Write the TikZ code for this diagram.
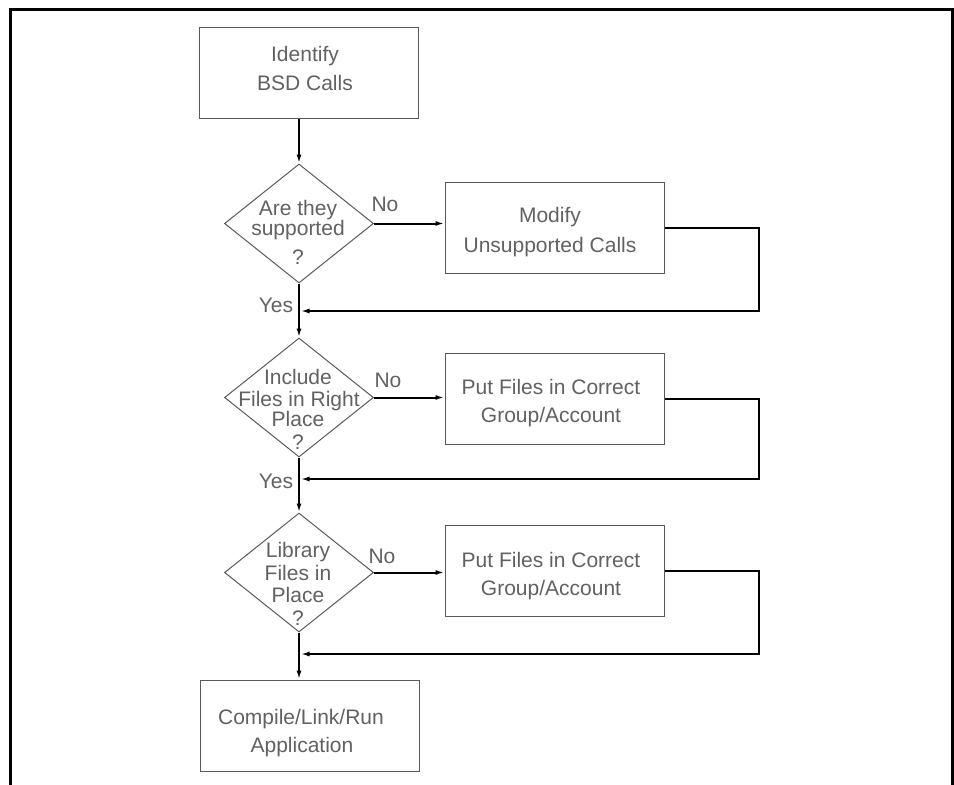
\documentclass[tikz,border=0pt]{standalone}
\usepackage{fontspec}
\setmainfont{Liberation Sans}
\usetikzlibrary{shapes.geometric,arrows.meta}
\begin{document}
\begin{tikzpicture}[x=1pt,y=-1pt,
  box/.style={draw=black!65, line width=1pt, minimum width=219pt, minimum height=91pt, inner sep=0pt},
  dia/.style={diamond, draw=black!65, line width=1pt, minimum width=149pt, minimum height=119pt, inner sep=0pt},
  txt/.style={font=\fontsize{21}{21}\selectfont, text=black!62, inner sep=0pt, text height=15pt, text depth=0pt},
  conn/.style={line width=2pt, black, -{Latex[length=9pt,width=5pt]}},
  loopline/.style={line width=2pt, black, -{Latex[length=9pt,width=5pt]}},
  frame/.style={line width=3pt, black}]
\useasboundingbox (0,0) rectangle (954,785);
% frame
\coordinate (f1) at (10.7,785);
\coordinate (f2) at (10.7,9.7);
\coordinate (f3) at (952.5,9.7);
\coordinate (f4) at (952.5,785);
\draw[frame] (f1) -- (f2) -- (f3) -- (f4);
% shapes
\node[box] (b1) at (309,72.5) {};
\node[dia] (d1) at (299,223.5) {};
\node[box] (b2) at (554.5,227.5) {};
\node[dia] (d2) at (299,397.5) {};
\node[box] (b3) at (554.5,399) {};
\node[dia] (d3) at (299,572.5) {};
\node[box] (b4) at (554.5,571) {};
\node[box] (b5) at (309.5,725.5) {};
% texts
\node[txt] (t1a) at (305,54) {Identify};
\node[txt] (t1b) at (305,83) {BSD Calls};
\node[txt] (t2a) at (298,208) {Are they};
\node[txt] (t2b) at (298,228) {supported};
\node[txt] (t2c) at (298,257) {?};
\node[txt] (t3a) at (550,215) {Modify};
\node[txt] (t3b) at (550,245) {Unsupported Calls};
\node[txt] (t4a) at (298,377) {Include};
\node[txt] (t4b) at (299,399) {Files in Right};
\node[txt] (t4c) at (298,419) {Place};
\node[txt] (t4d) at (298,442) {?};
\node[txt] (t5a) at (551,387) {Put Files in Correct};
\node[txt] (t5b) at (551,415) {Group/Account};
\node[txt] (t6a) at (298,550) {Library};
\node[txt] (t6b) at (298,573) {Files in};
\node[txt] (t6c) at (298,595) {Place};
\node[txt] (t6d) at (298,618) {?};
\node[txt] (t7a) at (551,560) {Put Files in Correct};
\node[txt] (t7b) at (551,588) {Group/Account};
\node[txt] (t8a) at (301,717) {Compile/Link/Run};
\node[txt] (t8b) at (302,745) {Application};
\node[txt] (no1) at (385,204) {No};
\node[txt] (no2) at (388,380) {No};
\node[txt] (no3) at (382,556) {No};
\node[txt] (yes1) at (276,305) {Yes};
\node[txt] (yes2) at (276,481) {Yes};
% main flow
\draw[conn] (d1.north |- b1.south) -- (d1.north);
\draw[conn] (d1.south) -- (d2.north);
\draw[conn] (d2.south) -- (d3.north);
\draw[conn] (d3.south) -- (d3.south |- b5.north);
% no branches
\draw[conn] (d1.east) -- (d1.east -| b2.west);
\draw[conn] (d2.east) -- (d2.east -| b3.west);
\draw[conn] (d3.east) -- (d3.east -| b4.west);
% loops back
\coordinate (r1) at (759,311);
\coordinate (j1) at (300.5,311);
\coordinate (r2) at (759,479);
\coordinate (j2) at (300.5,479);
\coordinate (r3) at (759,654);
\coordinate (j3) at (300.5,654);
\draw[loopline] (b2.east) -| (r1) -- (j1);
\draw[loopline] (b3.east) -| (r2) -- (j2);
\draw[loopline] (b4.east) -| (r3) -- (j3);
\end{tikzpicture}
\end{document}
